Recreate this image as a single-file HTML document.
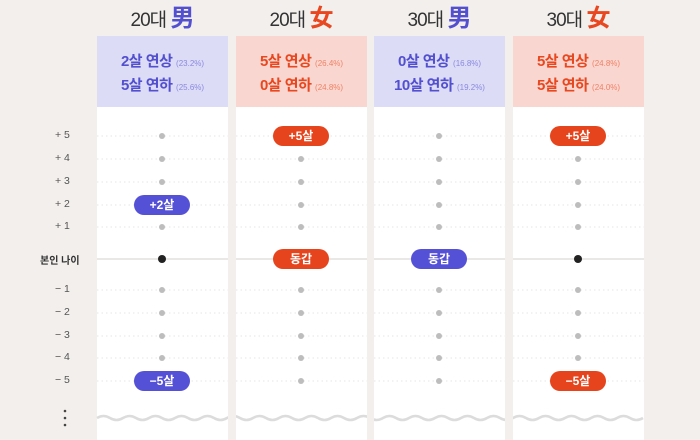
<!DOCTYPE html>
<html><head><meta charset="utf-8">
<style>
*{margin:0;padding:0;box-sizing:border-box}
body{width:700px;height:440px;background:#f3efed;position:relative;overflow:hidden;font-family:"Liberation Sans","Noto Sans CJK KR",sans-serif}
.t{position:absolute;white-space:nowrap}
.title{top:-2px;font-size:19px;color:#333;font-weight:normal;width:140px;text-align:center;letter-spacing:-1px}
.title b{font-size:24px}
.hb{position:absolute;top:36px;width:131px;height:71px;text-align:center;font-weight:bold;font-size:15px;line-height:22px;padding-top:15px;letter-spacing:-0.5px}
.hb small{font-size:8px;font-weight:normal;opacity:.6;letter-spacing:0}
.blue{color:#5350d0}.red{color:#e8471f}
.bb{background:#dcdcf6}.rb{background:#f9d7d0}
.lab{position:absolute;left:40px;width:50px;font-size:10.5px;color:#555;text-align:left;padding-left:15px}
.pill{position:absolute;width:56px;height:20px;border-radius:10px;color:#fff;font-size:12px;font-weight:bold;text-align:center;line-height:20px}
.pb{background:#5551d6}.pr{background:#e6441c}
</style></head><body>
<div class="t title" style="left:92px">20대 <b class="blue">男</b></div>
<div class="t title" style="left:231px">20대 <b class="red">女</b></div>
<div class="t title" style="left:369px">30대 <b class="blue">男</b></div>
<div class="t title" style="left:508px">30대 <b class="red">女</b></div>

<div class="hb bb blue" style="left:97px">2살 연상 <small>(23.2%)</small><br>5살 연하 <small>(25.6%)</small></div>
<div class="hb rb red" style="left:236px">5살 연상 <small>(26.4%)</small><br>0살 연하 <small>(24.8%)</small></div>
<div class="hb bb blue" style="left:374px">0살 연상 <small>(16.8%)</small><br>10살 연하 <small>(19.2%)</small></div>
<div class="hb rb red" style="left:513px">5살 연상 <small>(24.8%)</small><br>5살 연하 <small>(24.0%)</small></div>

<svg width="700" height="440" style="position:absolute;left:0;top:0">
<g fill="#fff">
<rect x="97" y="107" width="131" height="333"/><rect x="236" y="107" width="131" height="333"/>
<rect x="374" y="107" width="131" height="333"/><rect x="513" y="107" width="131" height="333"/>
</g>
<g stroke="#e6e6e6" stroke-width="1" stroke-dasharray="1.5 3">
<path d="M97 136H228M97 159H228M97 182H228M97 205H228M97 227H228M97 290H228M97 313H228M97 336H228M97 358H228M97 381H228"/>
<path d="M236 136H367M236 159H367M236 182H367M236 205H367M236 227H367M236 290H367M236 313H367M236 336H367M236 358H367M236 381H367"/>
<path d="M374 136H505M374 159H505M374 182H505M374 205H505M374 227H505M374 290H505M374 313H505M374 336H505M374 358H505M374 381H505"/>
<path d="M513 136H644M513 159H644M513 182H644M513 205H644M513 227H644M513 290H644M513 313H644M513 336H644M513 358H644M513 381H644"/>
</g>
<g stroke="#e2e0df" stroke-width="1.5"><path d="M97 259H228M236 259H367M374 259H505M513 259H644"/></g>
<g fill="#bdbdbd">
<circle cx="162" cy="136" r="3"/><circle cx="162" cy="159" r="3"/><circle cx="162" cy="182" r="3"/><circle cx="162" cy="227" r="3"/><circle cx="162" cy="290" r="3"/><circle cx="162" cy="313" r="3"/><circle cx="162" cy="336" r="3"/><circle cx="162" cy="358" r="3"/>
<circle cx="301" cy="159" r="3"/><circle cx="301" cy="182" r="3"/><circle cx="301" cy="205" r="3"/><circle cx="301" cy="227" r="3"/><circle cx="301" cy="290" r="3"/><circle cx="301" cy="313" r="3"/><circle cx="301" cy="336" r="3"/><circle cx="301" cy="358" r="3"/><circle cx="301" cy="381" r="3"/>
<circle cx="439" cy="136" r="3"/><circle cx="439" cy="159" r="3"/><circle cx="439" cy="182" r="3"/><circle cx="439" cy="205" r="3"/><circle cx="439" cy="227" r="3"/><circle cx="439" cy="290" r="3"/><circle cx="439" cy="313" r="3"/><circle cx="439" cy="336" r="3"/><circle cx="439" cy="358" r="3"/><circle cx="439" cy="381" r="3"/>
<circle cx="578" cy="159" r="3"/><circle cx="578" cy="182" r="3"/><circle cx="578" cy="205" r="3"/><circle cx="578" cy="227" r="3"/><circle cx="578" cy="290" r="3"/><circle cx="578" cy="313" r="3"/><circle cx="578" cy="336" r="3"/><circle cx="578" cy="358" r="3"/>
</g>
<circle cx="162" cy="259" r="4" fill="#222"/><circle cx="578" cy="259" r="4" fill="#222"/>
<g stroke="#dcdcdc" stroke-width="2.5" fill="none">
<path d="M97 418 q6.5 -4 13 0 t13 0 t13 0 t13 0 t13 0 t13 0 t13 0 t13 0 t13 0 t13 0 t13 0 t13 0 t13 0 t13 0 t13 0 t13 0 t13 0 t13 0 t13 0 t13 0 t13 0 t13 0 t13 0 t13 0 t13 0 t13 0 t13 0 t13 0 t13 0 t13 0 t13 0 t13 0 t13 0 t13 0 t13 0 t13 0 t13 0 t13 0 t13 0 t13 0 t13 0 t13 0"/>
</g>
<g fill="#f3efed"><rect x="228" y="400" width="8" height="40"/><rect x="367" y="400" width="7" height="40"/><rect x="505" y="400" width="8" height="40"/><rect x="644" y="400" width="56" height="40"/></g>
<g fill="#444"><circle cx="65" cy="411" r="1.3"/><circle cx="65" cy="418" r="1.3"/><circle cx="65" cy="425" r="1.3"/></g>
</svg>

<div class="t lab" style="top:129px">+ 5</div>
<div class="t lab" style="top:152px">+ 4</div>
<div class="t lab" style="top:175px">+ 3</div>
<div class="t lab" style="top:198px">+ 2</div>
<div class="t lab" style="top:220px">+ 1</div>
<div class="t lab" style="top:252px;padding-left:0;left:40px;font-weight:bold;font-size:10px;color:#333">본인 나이</div>
<div class="t lab" style="top:283px">− 1</div>
<div class="t lab" style="top:306px">− 2</div>
<div class="t lab" style="top:329px">− 3</div>
<div class="t lab" style="top:351px">− 4</div>
<div class="t lab" style="top:374px">− 5</div>

<div class="pill pb" style="left:134px;top:195px">+2살</div>
<div class="pill pb" style="left:134px;top:371px">−5살</div>
<div class="pill pr" style="left:273px;top:126px">+5살</div>
<div class="pill pr" style="left:273px;top:249px">동갑</div>
<div class="pill pb" style="left:411px;top:249px">동갑</div>
<div class="pill pr" style="left:550px;top:126px">+5살</div>
<div class="pill pr" style="left:550px;top:371px">−5살</div>
</body></html>
